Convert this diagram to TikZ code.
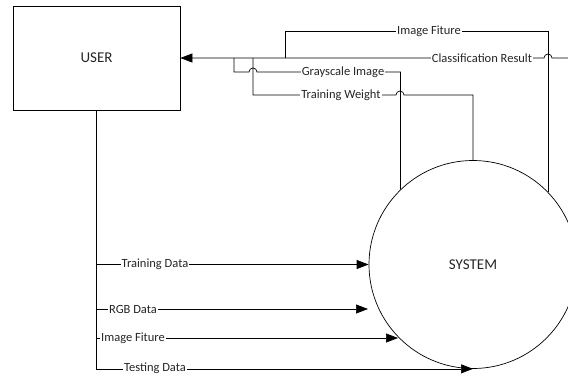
\documentclass[tikz,border=0pt]{standalone}
\usepackage{fontspec}
\setmainfont{Carlito}
\usetikzlibrary{arrows.meta}
\begin{document}
\begin{tikzpicture}[x=1pt,y=1pt,line width=0.7pt,
  arr/.style={-{Triangle[length=12pt,width=9pt]}},
  lbl/.style={fill=white,inner xsep=1pt,inner ysep=0.5pt,font=\fontsize{12.5}{12.5}\selectfont,text=black!85},
  big/.style={font=\fontsize{15}{15}\selectfont,text=black!85}]
\useasboundingbox (0,0) rectangle (568,-378);
\clip (0,0) rectangle (568,-378);
\node[draw,minimum width=167pt,minimum height=104pt,inner sep=0,big] (user) at (96.5,-58) {USER};
\node[draw,circle,minimum size=208pt,inner sep=0,big] (sys) at (473,-264.5) {SYSTEM};
% free ends
\coordinate (cr) at (568,-58);
\coordinate (rgbend) at (368,-309);
\coordinate (ifend) at (398,-338);
% flows to USER
\draw[arr] (cr) -- (552,-58) arc[start angle=0,end angle=180,radius=4] -- (user.east);
\draw (sys.44) |- (285,-31) -- (285,-58);
\draw (sys.134.6) |- (257,-72) arc[start angle=0,end angle=180,radius=4] -- (234,-72) -- (234,-58);
\draw (sys.north) |- (404,-95) arc[start angle=0,end angle=180,radius=4] -- (253,-95) -- (253,-58);
% flows to SYSTEM
\draw[arr] (user.south) |- (sys.south);
\draw[arr] (user.south |- sys.west) -- (sys.west);
\draw[arr] (user.south |- rgbend) -- (rgbend);
\draw[arr] (user.south |- ifend) -- (ifend);
% labels
\node[lbl] (l1) at (429,-31) {Image Fiture};
\node[lbl] (l2) at (482,-58) {Classification Result};
\node[lbl] (l3) at (343,-72) {Grayscale Image};
\node[lbl] (l4) at (341,-95) {Training Weight};
\node[lbl] (l5) at (155,-264.5) {Training Data};
\node[lbl] (l6) at (133,-309) {RGB Data};
\node[lbl] (l7) at (133,-338) {Image Fiture};
\node[lbl] (l8) at (155,-368.5) {Testing Data};
\end{tikzpicture}
\end{document}
